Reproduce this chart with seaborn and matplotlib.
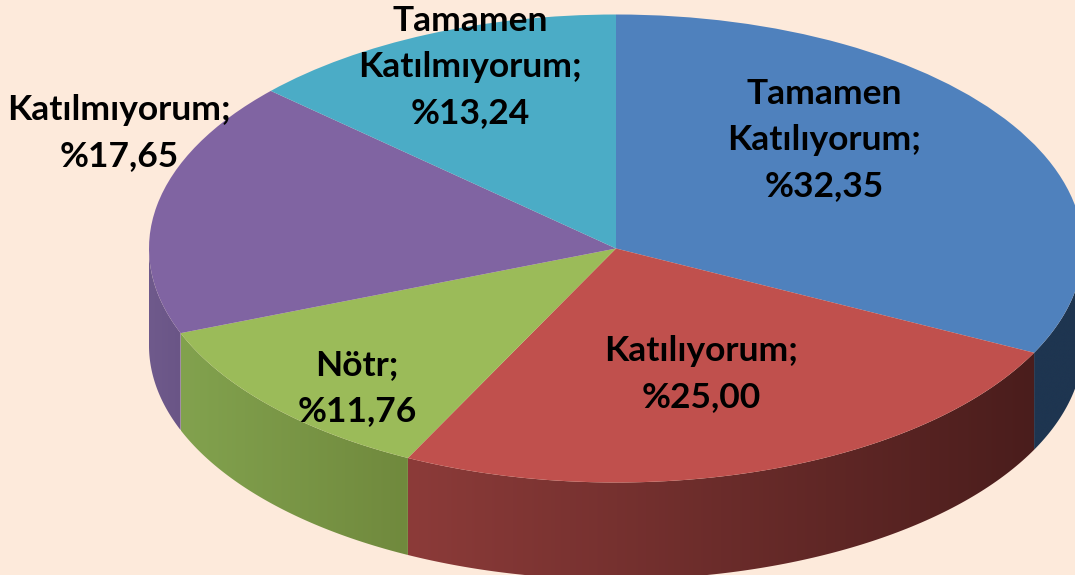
#3D looking pie chart of survey answers
import numpy as np
import seaborn as sns
import matplotlib
matplotlib.use("Agg")
import matplotlib.pyplot as plt
from matplotlib.patches import Polygon

#Chart data
answers = ["Tamamen\nKatılıyorum;", "Katılıyorum;", "Nötr;", "Katılmıyorum;", "Tamamen\nKatılmıyorum;"]
shares = [32.35, 25.00, 11.76, 17.65, 13.24]
share_labels = ["%32,35", "%25,00", "%11,76", "%17,65", "%13,24"]

#Colours of the top and of the side wall (left end, right end)
top_colors = ["#4f81bd", "#c0504d", "#9bbb59", "#8064a2", "#4bacc6"]
wall_left = ["#1e3550", "#8c3b39", "#82a24e", "#6f5a8c", "#3a8ea5"]
wall_right = ["#1e3550", "#4a1d1c", "#70893d", "#6a5586", "#3a8ea5"]
background = "#fdeadb"

#Label centres in pixels of the picture
label_x = [824, 701, 357, 119, 470]
label_y = [140, 374, 388, 133, 67]

#Pie geometry in pixels
cx, cy = 616, 248.5
rx, ry = 467, 234
depth = 97

sns.set_theme(style="white")
plt.rcParams["font.family"] = ["Lato", "DejaVu Sans"]

fig = plt.figure(figsize=(10.75, 5.75), dpi=100, facecolor=background)
ax = fig.add_axes([0, 0, 1, 1])
ax.set_facecolor(background)

#Side wall, only the front half of the rim shows
start = 0.0
for share, c_left, c_right in zip(shares, wall_left, wall_right):
    stop = start + share * 3.6
    a0, a1 = max(start, 90), min(stop, 270)
    if a1 > a0:
        steps = np.radians(np.linspace(a0, a1, 120))
        xs = np.sin(steps)
        tops = np.cos(steps)
        outline = np.column_stack([np.r_[xs, xs[::-1]], np.r_[tops, tops[::-1] - depth / ry]])
        patch = Polygon(outline, closed=True, facecolor="none", edgecolor="none", transform=ax.transData)
        ax.add_patch(patch)
        shades = np.array(sns.blend_palette([c_left, c_right], 256))[np.newaxis, :, :]
        img = ax.imshow(shades, extent=(xs.min(), xs.max(), outline[:, 1].min(), outline[:, 1].max()),
                        aspect="auto", interpolation="bilinear", zorder=1)
        img.set_clip_path(patch)
    start = stop

#Top of the pie
ax.pie(shares, colors=top_colors, startangle=90, counterclock=False,
       wedgeprops=dict(linewidth=0, zorder=2))
ax.set_aspect("auto")
ax.set_xlim(-cx / rx, (1075 - cx) / rx)
ax.set_ylim(-(575 - cy) / ry, cy / ry)

#Labels
for answer, label, px, py in zip(answers, share_labels, label_x, label_y):
    ax.text((px - cx) / rx, (cy - py) / ry, answer + "\n" + label, ha="center", va="center",
            fontsize=25.5, fontweight="bold", color="black", linespacing=1.53, zorder=3)

fig.savefig("out.png", dpi=100, facecolor=background)
